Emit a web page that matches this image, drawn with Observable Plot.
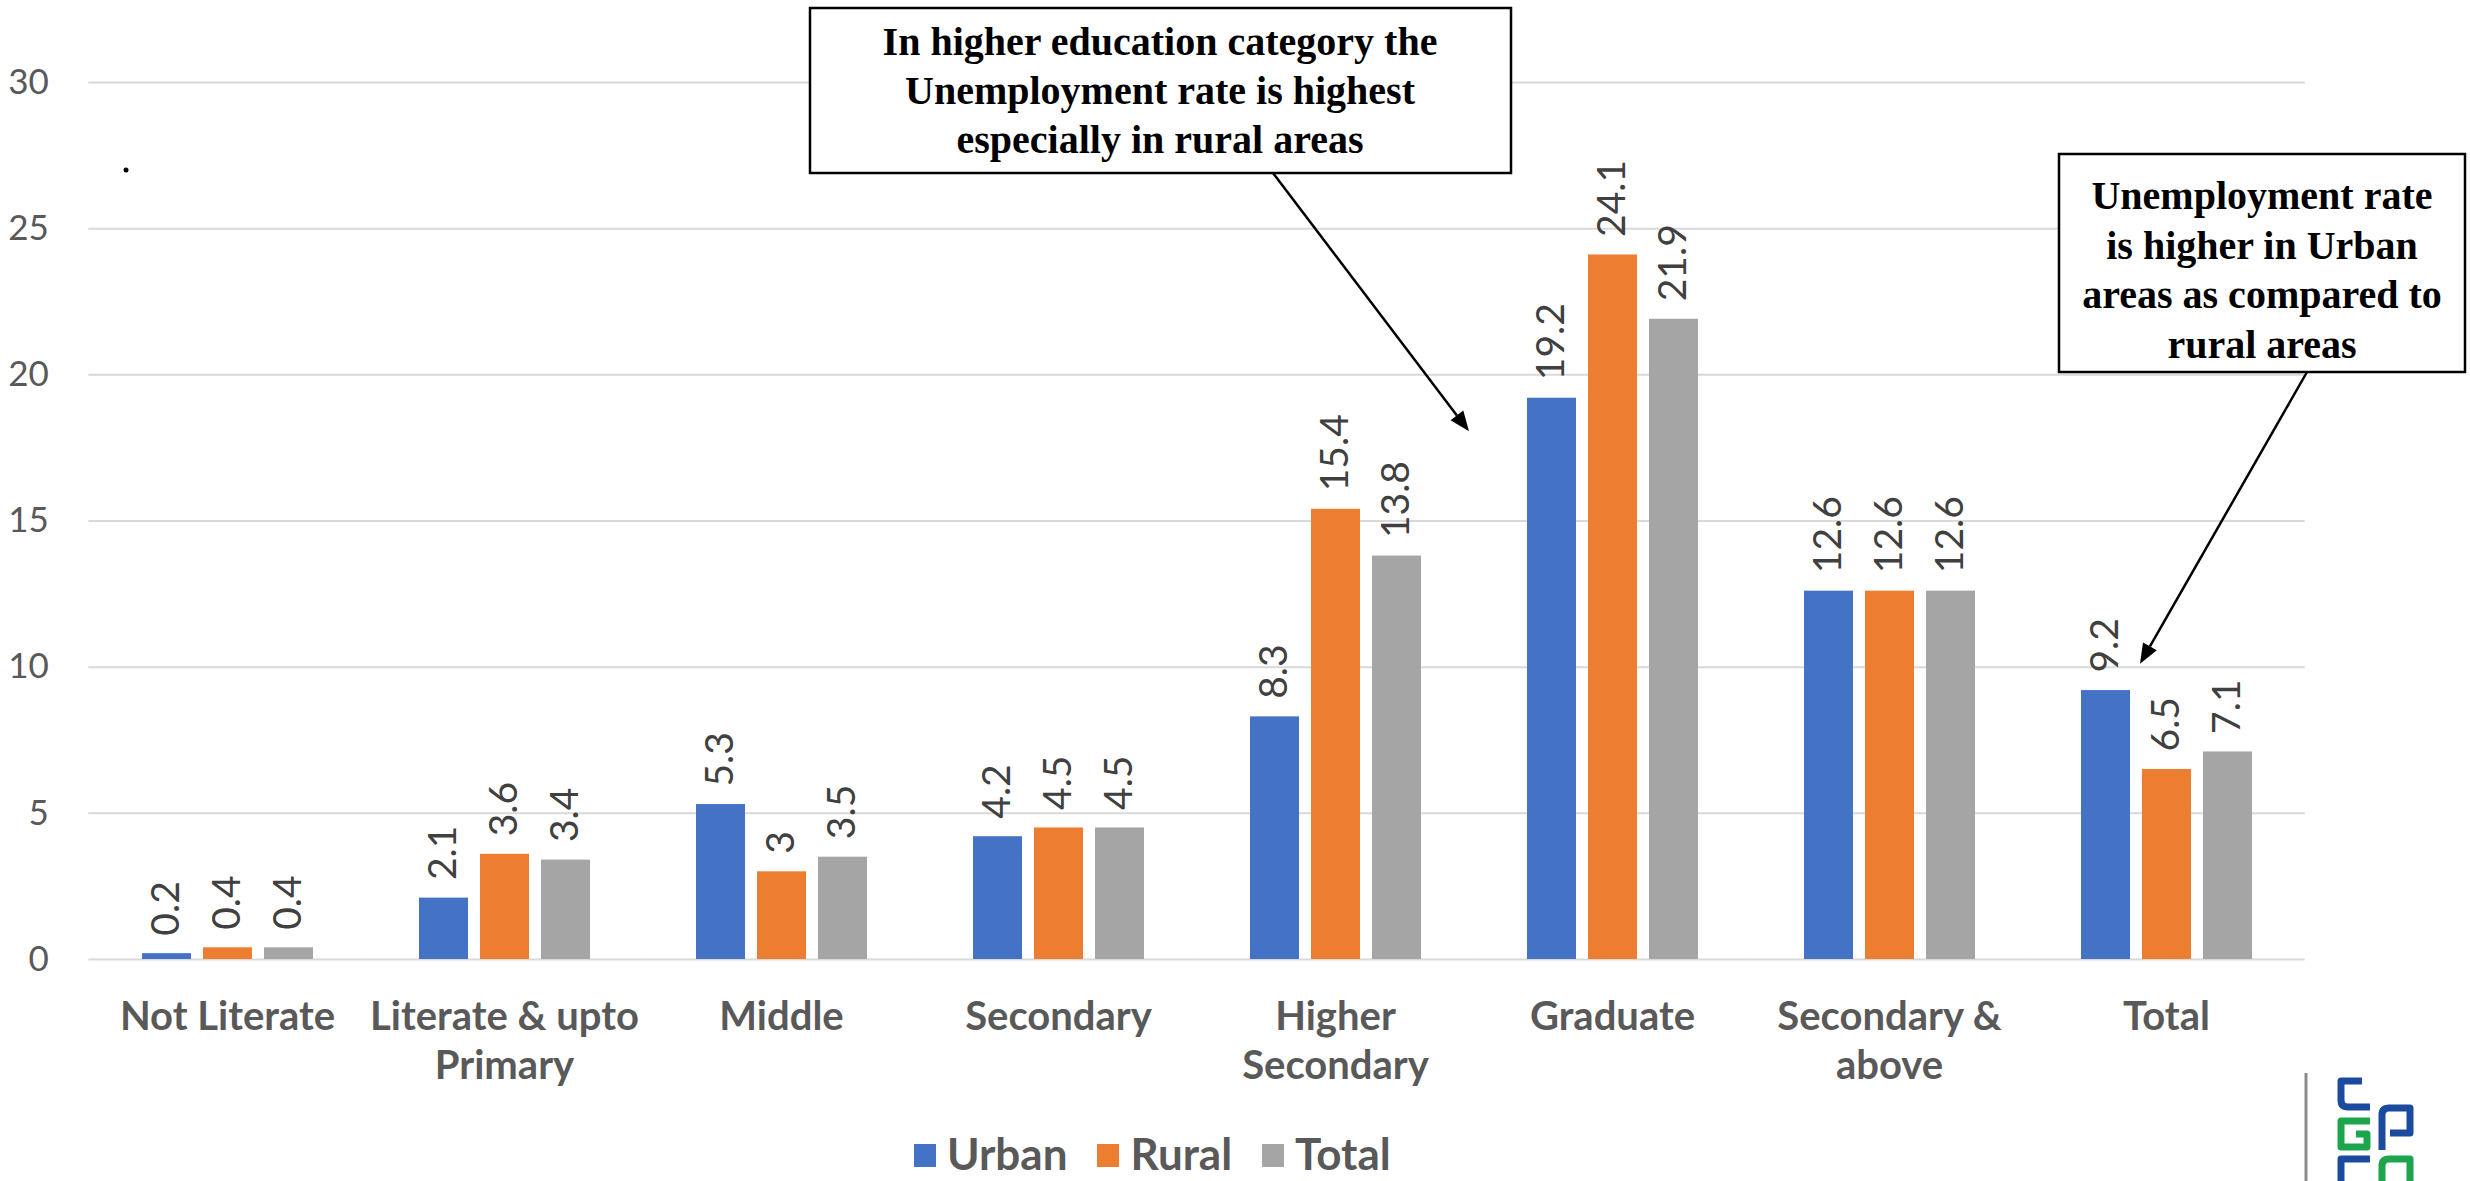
<!DOCTYPE html>
<html>
<head>
<meta charset="utf-8">
<script src="https://cdn.jsdelivr.net/npm/d3@7"></script>
<script src="https://cdn.jsdelivr.net/npm/@observablehq/plot@0.6"></script>
<style>
html, body { margin: 0; padding: 0; background: #fff; overflow: hidden; }
#wrap { position: relative; width: 2470px; height: 1181px; overflow: hidden; background: #fff; }
#wrap > svg.plot { position: absolute; left: 0; top: 0; }
#overlay { position: absolute; left: 0; top: 0; pointer-events: none; }
#legend { position: absolute; top: 1130px; left: 914px; height: 46px; display: flex; align-items: center;
  font-family: Lato, sans-serif; font-weight: 700; font-size: 44px; line-height: 46px; color: #595959; }
#legend .sw { width: 22px; height: 23px; margin-right: 11px; position: relative; top: 2px; }
#legend .it { display: flex; align-items: center; margin-right: 30px; }
svg [aria-label="fx-axis tick label"] text { font-weight: 700; }
</style>
</head>
<body>
<div id="wrap"></div>
<script>
// ---- data ----
const categories = ["Not Literate", "Literate & upto Primary", "Middle", "Secondary", "Higher Secondary", "Graduate", "Secondary & above", "Total"];
const categoryLabels = ["Not Literate", "Literate & upto\nPrimary", "Middle", "Secondary", "Higher\nSecondary", "Graduate", "Secondary &\nabove", "Total"];
const series = ["Urban", "Rural", "Total"];
const urban = [0.2, 2.1, 5.3, 4.2, 8.3, 19.2, 12.6, 9.2];
const rural = [0.4, 3.6, 3.0, 4.5, 15.4, 24.1, 12.6, 6.5];
const total = [0.4, 3.4, 3.5, 4.5, 13.8, 21.9, 12.6, 7.1];
const colors = ["#4472C4", "#ED7D31", "#A5A5A5"];
const yTicks = [0, 5, 10, 15, 20, 25, 30];
const note1 = ["In higher education category the", "Unemployment rate is highest", "especially in rural areas"];
const note2 = ["Unemployment rate", "is higher in Urban", "areas as compared to", "rural areas"];

const seriesValues = [urban, rural, total];
const rows = categories.flatMap((c, i) => series.map((s, j) => ({category: c, series: s, value: seriesValues[j][i]})));

const W = 2470, H = 1130, mL = 87, mR = 165, mT = 82, mB = 171;
const fxPadIn = 0.38, fxPadOut = 0.19;
const fxStep = (W - mL - mR) / (categories.length - fxPadIn + 2 * fxPadOut);
const halfGap = fxStep * fxPadIn / 2;

const chart = Plot.plot({
  width: W,
  height: H,
  marginLeft: mL,
  marginRight: mR,
  marginTop: mT,
  marginBottom: mB,
  style: {fontFamily: "Lato, sans-serif", background: "transparent", overflow: "visible"},
  fx: {domain: categories, paddingInner: fxPadIn, paddingOuter: fxPadOut, label: null},
  x: {domain: series, paddingInner: 0.2, paddingOuter: 0, axis: null, label: null},
  y: {domain: [0, 30], label: null},
  color: {domain: series, range: colors},
  marks: [
    Plot.ruleY(yTicks, {stroke: "#d9d9d9", strokeWidth: 2, insetLeft: -halfGap, insetRight: -halfGap}),
    Plot.axisY(yTicks, {tickSize: 0, tickPadding: 40 + halfGap, fontSize: 35, color: "#595959", label: null}),
    Plot.barY(rows, {fx: "category", x: "series", y: "value", fill: "series"}),
    Plot.text(rows, {fx: "category", x: "series", y: "value", text: d => String(d.value), rotate: -90,
      textAnchor: "start", dy: -18, fontSize: 39, fill: "#404040"}),
    Plot.axisFx({anchor: "bottom", tickSize: 0, tickPadding: 36, fontSize: 40, fontWeight: "bold", color: "#595959",
      lineHeight: 1.225, tickFormat: d => categoryLabels[categories.indexOf(d)], label: null})
  ]
});
chart.classList.add("plot");
const wrap = document.getElementById("wrap");
wrap.appendChild(chart);

// ---- legend ----
const legend = document.createElement("div");
legend.id = "legend";
series.forEach((s, i) => {
  const it = document.createElement("div");
  it.className = "it";
  const sw = document.createElement("div");
  sw.className = "sw";
  sw.style.background = colors[i];
  const t = document.createElement("span");
  t.textContent = s;
  it.appendChild(sw); it.appendChild(t);
  legend.appendChild(it);
});
wrap.appendChild(legend);

// ---- annotations ----
const fxS = chart.scale("fx"), xS = chart.scale("x"), yS = chart.scale("y");
const ov = d3.select(wrap).append("svg").attr("id", "overlay").attr("width", 2470).attr("height", 1181);

function box(x, y, w, h, lines, cx, firstBaseline, lh) {
  ov.append("rect").attr("x", x).attr("y", y).attr("width", w).attr("height", h)
    .attr("fill", "#fff").attr("stroke", "#000").attr("stroke-width", 2.5);
  lines.forEach((l, i) => {
    ov.append("text").attr("x", cx).attr("y", firstBaseline + i * lh).attr("text-anchor", "middle")
      .attr("font-family", "'Liberation Serif', 'Times New Roman', serif").attr("font-weight", 700)
      .attr("font-size", 40).attr("fill", "#000").text(l);
  });
}
function arrow(x1, y1, x2, y2) {
  const a = Math.atan2(y2 - y1, x2 - x1), L = 20, Wd = 8;
  const bx = x2 - L * Math.cos(a), by = y2 - L * Math.sin(a);
  ov.append("line").attr("x1", x1).attr("y1", y1).attr("x2", bx).attr("y2", by).attr("stroke", "#000").attr("stroke-width", 2.5);
  ov.append("path").attr("d", `M${x2},${y2}L${bx + Wd * Math.sin(a)},${by - Wd * Math.cos(a)}L${bx - Wd * Math.sin(a)},${by + Wd * Math.cos(a)}Z`).attr("fill", "#000");
}

box(810, 8, 701, 165, note1, 1160, 55, 49);
box(2059, 154, 406, 218, note2, 2262, 209, 49.5);

const xStart = xS.range ? Math.min(...xS.range) : mL;
const tip1 = [fxS.apply("Graduate") - 57, yS.apply(18.05)];
const tip2 = [fxS.apply("Total") + (xS.apply("Urban") - xStart) + xS.bandwidth + 10, yS.apply(10.1)];
arrow(1273, 173, tip1[0], tip1[1]);
arrow(2307, 372, tip2[0], tip2[1]);

// stray dot
ov.append("circle").attr("cx", 126).attr("cy", 170).attr("r", 2.5).attr("fill", "#000");

// logo
ov.append("line").attr("x1", 2306).attr("y1", 1073).attr("x2", 2306).attr("y2", 1181).attr("stroke", "#8c8c8c").attr("stroke-width", 3);
const blue = "#1B4B9E", green = "#1DA54E";
const lg = ov.append("g").attr("fill", "none").attr("stroke-width", 7).attr("stroke-linejoin", "round");
lg.append("path").attr("d", "M2362,1081 H2341 V1100 Q2341,1107 2348,1107 H2370").attr("stroke", blue);
lg.append("path").attr("d", "M2370,1121 H2341 V1147 H2367 V1134 H2356").attr("stroke", green);
lg.append("path").attr("d", "M2382,1150 V1115 Q2382,1108 2389,1108 H2410 V1133 H2390").attr("stroke", blue);
lg.append("path").attr("d", "M2370,1159 H2341 V1185").attr("stroke", blue);
lg.append("path").attr("d", "M2382,1185 V1166 Q2382,1159 2389,1159 H2410 V1185").attr("stroke", green);
</script>
</body>
</html>
